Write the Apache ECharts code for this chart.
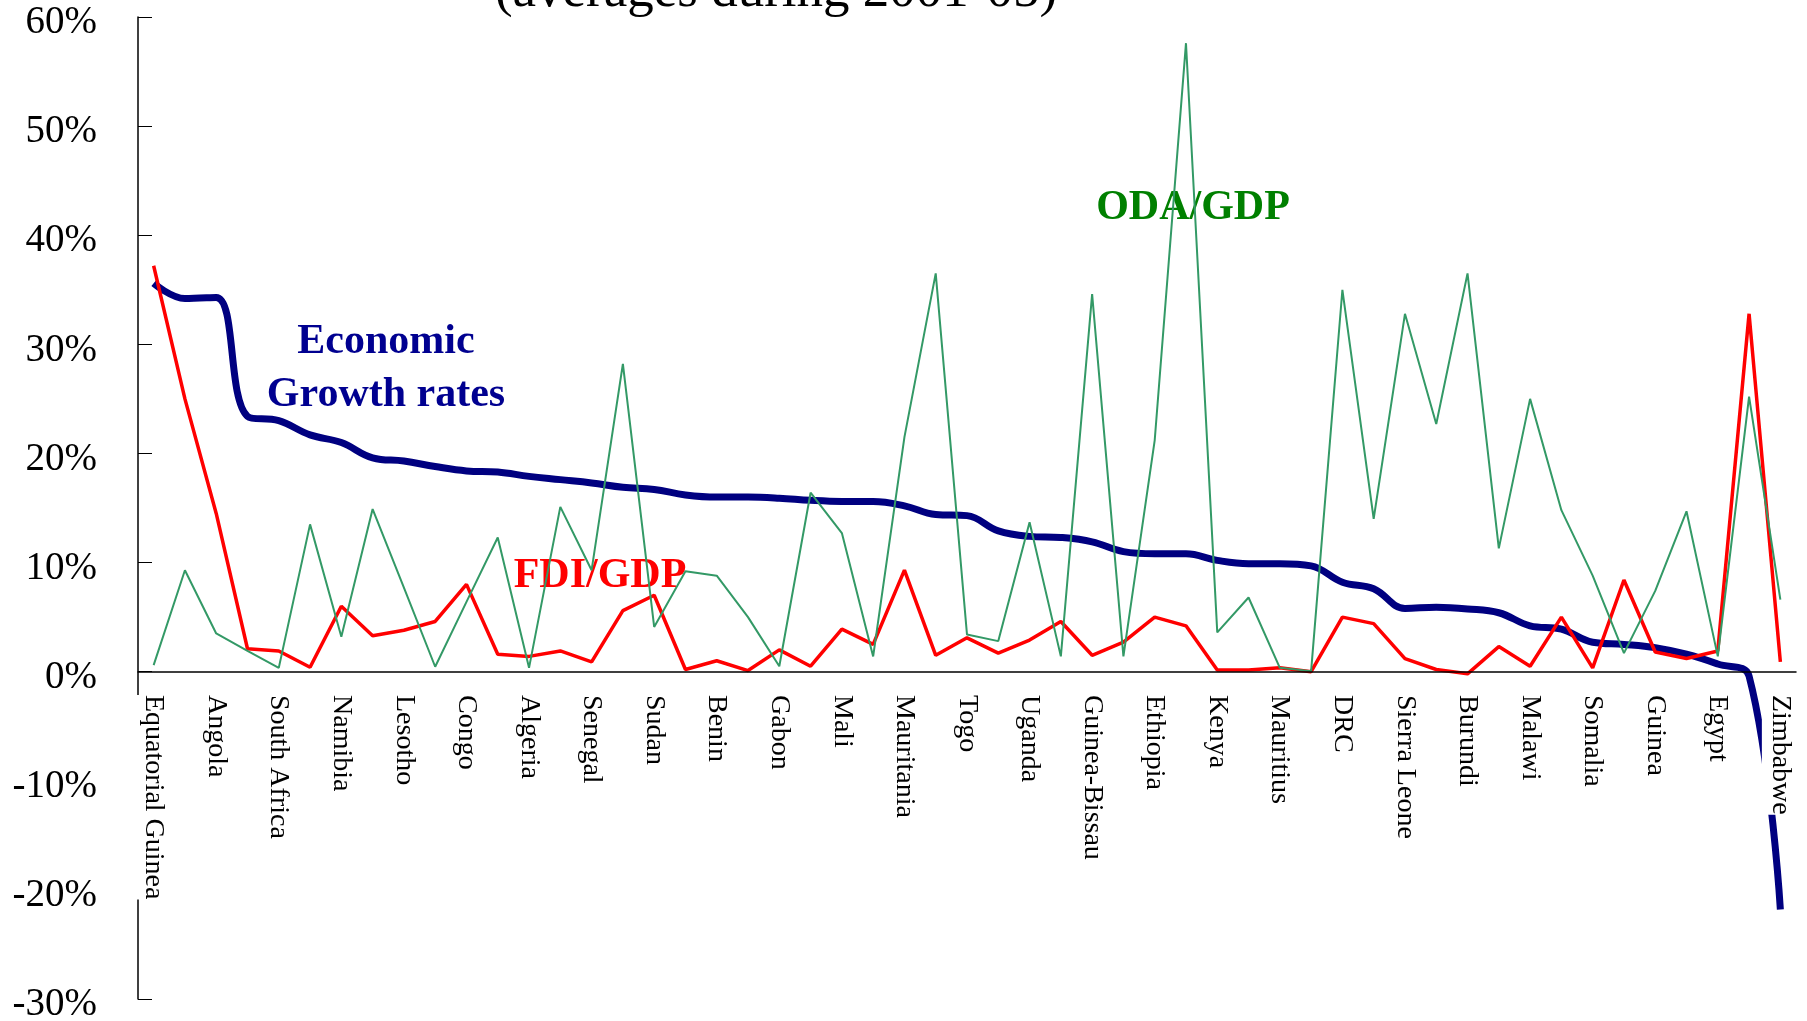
<!DOCTYPE html>
<html>
<head>
<meta charset="utf-8">
<title>Growth, FDI and ODA in Africa</title>
<script src="https://cdn.jsdelivr.net/npm/echarts@6/dist/echarts.min.js"></script>
<style>
	html, body { margin: 0; padding: 0; background: #fff; }
	#main { width: 1807px; height: 1021px; }
</style>
</head>
<body>
<div id="main"></div>
<script type="text/javascript">
	// countries, sorted by growth rate (only every other one is labelled)
	var countries = [
		"Equatorial Guinea", "Chad", "Angola", "Botswana", "South Africa", "Mozambique",
		"Namibia", "Tanzania", "Lesotho", "Tunisia", "Congo", "Cape Verde",
		"Algeria", "Burkina Faso", "Senegal", "Rwanda", "Sudan", "Ghana",
		"Benin", "Morocco", "Gabon", "Zambia", "Mali", "Nigeria",
		"Mauritania", "Eritrea", "Togo", "Cameroon", "Uganda", "Swaziland",
		"Guinea-Bissau", "Djibouti", "Ethiopia", "Sao Tome and Principe", "Kenya", "Madagascar",
		"Mauritius", "Libya", "DRC", "Niger", "Sierra Leone", "Gambia",
		"Burundi", "Comoros", "Malawi", "Central African Republic", "Somalia", "Seychelles",
		"Guinea", "Cote d'Ivoire", "Egypt", "Liberia", "Zimbabwe"
	];
	// economic growth rates (%)
	var growth = [
		35.6, 34.2, 34.3, 23.4, 23.0, 21.7, 21.0, 19.6, 19.3, 18.8,
		18.4, 18.3, 17.9, 17.6, 17.3, 16.9, 16.7, 16.2, 16.0, 16.0,
		15.9, 15.7, 15.6, 15.6, 15.2, 14.4, 14.3, 12.9, 12.4, 12.3,
		11.9, 11.0, 10.8, 10.8, 10.2, 9.9, 9.9, 9.7, 8.2, 7.6,
		5.8, 5.9, 5.75, 5.4, 4.2, 3.9, 2.7, 2.5, 2.2, 1.6,
		0.7, -0.4, -21.8
	];
	// FDI / GDP (%)
	var fdi = [
		37.2, 25.0, 14.5, 2.1, 1.9, 0.4, 6.0, 3.3, 3.8, 4.6,
		8.0, 1.6, 1.4, 1.9, 0.9, 5.6, 7.0, 0.2, 1.0, 0.1,
		2.0, 0.5, 3.9, 2.5, 9.3, 1.5, 3.1, 1.7, 2.9, 4.6,
		1.5, 2.7, 5.0, 4.2, 0.15, 0.15, 0.35, 0.0, 5.0, 4.4,
		1.2, 0.2, -0.2, 2.3, 0.5, 5.0, 0.35, 8.4, 1.8, 1.2,
		1.9, 32.8, 0.9
	];
	// ODA / GDP (%)
	var oda = [
		0.6, 9.3, 3.5, 1.9, 0.35, 13.5, 3.2, 14.9, 7.7, 0.45,
		6.4, 12.3, 0.35, 15.1, 9.3, 28.2, 4.1, 9.2, 8.8, 5.0,
		0.5, 16.4, 12.7, 1.4, 21.5, 36.5, 3.4, 2.8, 13.7, 1.4,
		34.6, 1.4, 21.2, 57.6, 3.6, 6.8, 0.35, 0.05, 35.0, 14.0,
		32.8, 22.7, 36.5, 11.3, 25.0, 14.8, 8.8, 1.7, 7.4, 14.7,
		1.4, 25.2, 6.6
	];

	var serif = '"Liberation Serif", "Times New Roman", serif';

	var chart = echarts.init(document.getElementById('main'));
	var option = {
		animation: false,
		backgroundColor: '#fff',
		grid: { left: 138, right: 11, top: 17, bottom: 22, containLabel: false, outerBoundsMode: 'none' },
		graphic: [
			{
				type: 'text', x: 776, y: -8,
				style: { text: '(averages during 2001-05)', font: '53px ' + serif, fill: '#000', align: 'center', verticalAlign: 'middle' }
			},
			{
				type: 'text', x: 386, y: 369,
				style: { text: 'Economic\nGrowth rates', font: 'bold 42px ' + serif, lineHeight: 53, fill: '#000090', align: 'center', verticalAlign: 'middle' }
			},
			{
				type: 'text', x: 600, y: 576,
				style: { text: 'FDI/GDP', font: 'bold 42px ' + serif, fill: '#ff0000', align: 'center', verticalAlign: 'middle' }
			},
			{
				type: 'text', x: 1193, y: 208,
				style: { text: 'ODA/GDP', font: 'bold 42px ' + serif, fill: '#008000', align: 'center', verticalAlign: 'middle' }
			}
		],
		xAxis: {
			type: 'category',
			data: countries,
			boundaryGap: true,
			position: 'bottom',
			// the axis sits on the 0% line: 30 of the 90 points above the grid bottom
			offset: -327,
			z: 10,
			axisLine: { onZero: false, lineStyle: { color: '#000', width: 1.5 } },
			axisTick: { inside: true, length: 9, interval: 0, lineStyle: { color: '#000' } },
			axisLabel: {
				interval: 1,
				rotate: -90,
				margin: 23,
				fontSize: 28,
				fontFamily: serif,
				color: '#000',
				backgroundColor: '#fff',
				padding: [9, 0, 0, 0]
			},
			splitLine: { show: false }
		},
		yAxis: {
			type: 'value',
			min: -30,
			max: 60,
			interval: 10,
			axisLine: { show: true, lineStyle: { color: '#000', width: 1.5 } },
			axisTick: { show: true, inside: true, length: 14, lineStyle: { color: '#000' } },
			axisLabel: {
				formatter: '{value}%',
				margin: 41,
				fontSize: 39,
				fontFamily: serif,
				color: '#000',
				verticalAlign: 'top',
				lineHeight: 12
			},
			splitLine: { show: false }
		},
		series: [
			{
				name: 'Economic Growth rates',
				type: 'line',
				data: growth,
				smooth: 0.4,
				symbol: 'none',
				lineStyle: { color: '#000080', width: 7 }
			},
			{
				name: 'FDI/GDP',
				type: 'line',
				data: fdi,
				symbol: 'none',
				lineStyle: { color: '#ff0000', width: 3.5 }
			},
			{
				name: 'ODA/GDP',
				type: 'line',
				data: oda,
				symbol: 'none',
				lineStyle: { color: '#339966', width: 2 }
			}
		]
	};
	chart.setOption(option);
</script>
</body>
</html>
